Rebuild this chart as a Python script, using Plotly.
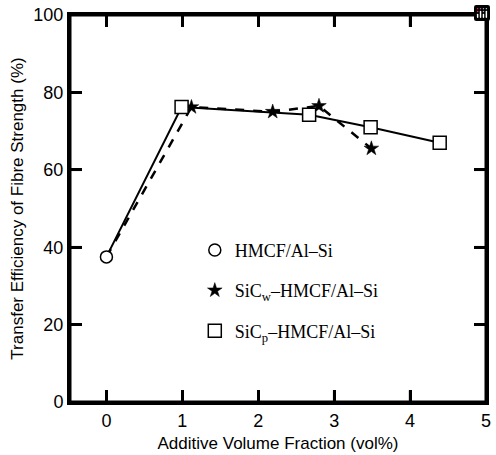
import plotly.graph_objects as go

# Data
hmcf_x = [0]
hmcf_y = [37.5]
sicw_x = [1.12, 2.19, 2.8, 3.49]
sicw_y = [76.2, 75.0, 76.5, 65.5]
sicp_x = [0.99, 2.67, 3.48, 4.39]
sicp_y = [76.2, 74.2, 71.0, 67.0]

x_ticks = [0, 1, 2, 3, 4, 5]
y_ticks = [0, 20, 40, 60, 80, 100]
x_range = [-0.48, 5]
y_range = [0, 100]

W, H = 496, 455
M = dict(l=70, r=5, t=13, b=49)
TICKLEN = 12

fig = go.Figure()

# connecting lines (start at the plain HMCF point)
fig.add_trace(go.Scatter(x=hmcf_x + sicp_x, y=hmcf_y + sicp_y, mode="lines",
                         line=dict(color="black", width=2), showlegend=False))
fig.add_trace(go.Scatter(x=hmcf_x + sicw_x, y=hmcf_y + sicw_y, mode="lines",
                         line=dict(color="black", width=2.5, dash="dash"), showlegend=False))

# markers
fig.add_trace(go.Scatter(x=hmcf_x, y=hmcf_y, mode="markers", name="HMCF/Al–Si",
                         legendgroup="a",
                         marker=dict(symbol="circle", size=12, color="white",
                                     line=dict(color="black", width=1.5))))
fig.add_trace(go.Scatter(x=sicw_x, y=sicw_y, mode="markers", name="SiC<sub>w</sub>–HMCF/Al–Si",
                         legendgroup="b",
                         marker=dict(symbol="star", size=11, color="black",
                                     line=dict(color="black", width=0.5))))
fig.add_trace(go.Scatter(x=sicp_x, y=sicp_y, mode="markers", name="SiC<sub>p</sub>–HMCF/Al–Si",
                         legendgroup="c",
                         marker=dict(symbol="square", size=13, color="white",
                                     line=dict(color="black", width=1.5))))

axis_font = dict(family="Liberation Sans, Arial, sans-serif", size=17, color="black")
tick_font = dict(family="Liberation Sans, Arial, sans-serif", size=18, color="black")

# frame and inward ticks on all four edges (paper coordinates derived from the axis ranges)
plot_w = W - M["l"] - M["r"]
plot_h = H - M["t"] - M["b"]
dx = TICKLEN / plot_h
dy = TICKLEN / plot_w
tick_line = dict(color="black", width=2.5)
shapes = [dict(type="rect", xref="paper", yref="paper", x0=0, y0=0, x1=1, y1=1,
               line=dict(color="black", width=3), layer="above")]
for xv in x_ticks[:-1]:
    px = (xv - x_range[0]) / (x_range[1] - x_range[0])
    shapes.append(dict(type="line", xref="paper", yref="paper", x0=px, x1=px,
                       y0=0, y1=dx, line=tick_line, layer="above"))
    shapes.append(dict(type="line", xref="paper", yref="paper", x0=px, x1=px,
                       y0=1, y1=1 - dx, line=tick_line, layer="above"))
for yv in y_ticks[1:-1]:
    py = (yv - y_range[0]) / (y_range[1] - y_range[0])
    shapes.append(dict(type="line", xref="paper", yref="paper", x0=0, x1=dy,
                       y0=py, y1=py, line=tick_line, layer="above"))
    shapes.append(dict(type="line", xref="paper", yref="paper", x0=1, x1=1 - dy,
                       y0=py, y1=py, line=tick_line, layer="above"))

fig.update_layout(
    width=W, height=H,
    margin=M,
    paper_bgcolor="white", plot_bgcolor="white",
    font=axis_font,
    modebar=dict(bgcolor="rgba(0,0,0,0)", color="rgba(0,0,0,0)", activecolor="rgba(0,0,0,0)"),
    legend=dict(x=0.30, y=0.44, xanchor="left", yanchor="top",
                bgcolor="rgba(0,0,0,0)", tracegroupgap=14,
                font=dict(family="Liberation Serif, Times New Roman, serif", size=18, color="black"),
                itemwidth=30),
    xaxis=dict(range=x_range, tickvals=x_ticks, ticktext=[str(v) for v in x_ticks],
               ticks="inside", ticklen=TICKLEN, tickwidth=2.5, tickcolor="black",
               showline=True, linewidth=3, linecolor="black", mirror="allticks",
               showgrid=False, zeroline=False,
               title=dict(text="Additive Volume Fraction (vol%)", font=axis_font, standoff=8),
               tickfont=tick_font),
    yaxis=dict(range=y_range, tickvals=y_ticks, ticktext=[str(v) for v in y_ticks],
               ticks="inside", ticklen=TICKLEN, tickwidth=2.5, tickcolor="black",
               showline=True, linewidth=3, linecolor="black", mirror="allticks",
               showgrid=False, zeroline=False,
               title=dict(text="Transfer Efficiency of Fibre Strength (%)", font=axis_font, standoff=6),
               tickfont=tick_font),
    shapes=shapes,
)

fig.write_html("out.html",
               post_script="document.body.style.margin='0px';document.body.style.overflow='hidden';")
